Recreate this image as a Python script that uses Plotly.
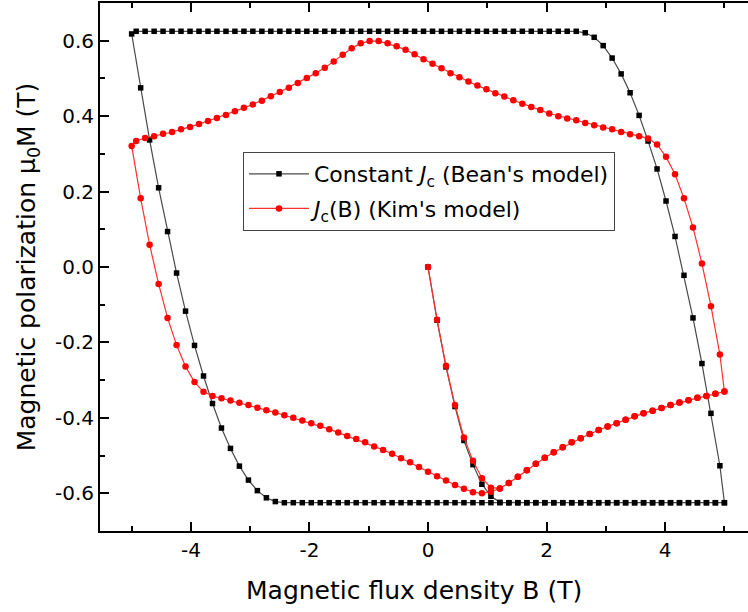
import plotly.graph_objects as go

# Field grid (T)
b_init = [0.0, 0.152, 0.303, 0.455, 0.606, 0.758, 0.909, 1.061, 1.212, 1.364, 1.515, 1.667,
          1.818, 1.970, 2.121, 2.273, 2.424, 2.576, 2.727, 2.879, 3.030, 3.182, 3.333, 3.485,
          3.636, 3.788, 3.939, 4.091, 4.242, 4.394, 4.545, 4.697, 4.848, 5.0]
b_down = [4.924, 4.773, 4.621, 4.470, 4.318, 4.167, 4.015, 3.864, 3.712, 3.561,
          3.409, 3.258, 3.106, 2.955, 2.803, 2.652, 2.500, 2.348, 2.197, 2.045,
          1.894, 1.742, 1.591, 1.439, 1.288, 1.136, 0.985, 0.833, 0.682, 0.530,
          0.379, 0.227, 0.076, -0.076, -0.227, -0.379, -0.530, -0.682, -0.833, -0.985,
          -1.136, -1.288, -1.439, -1.591, -1.742, -1.894, -2.045, -2.197, -2.348, -2.500,
          -2.652, -2.803, -2.955, -3.106, -3.258, -3.409, -3.561, -3.712, -3.864, -4.015,
          -4.167, -4.318, -4.470, -4.621, -4.773, -4.924]
b_up = [-5.0, -4.848, -4.697, -4.545, -4.394, -4.242, -4.091, -3.939, -3.788, -3.636,
        -3.485, -3.333, -3.182, -3.030, -2.879, -2.727, -2.576, -2.424, -2.273, -2.121,
        -1.970, -1.818, -1.667, -1.515, -1.364, -1.212, -1.061, -0.909, -0.758, -0.606,
        -0.455, -0.303, -0.152, 0.0, 0.152, 0.303, 0.455, 0.606, 0.758, 0.909,
        1.061, 1.212, 1.364, 1.515, 1.667, 1.818, 1.970, 2.121, 2.273, 2.424,
        2.576, 2.727, 2.879, 3.030, 3.182, 3.333, 3.485, 3.636, 3.788, 3.939,
        4.091, 4.242, 4.394, 4.545, 4.697, 4.848, 5.0]

# Constant Jc (Bean's model)
bean_init = [0.0, -0.141, -0.265, -0.370, -0.460, -0.524, -0.576, -0.608, -0.624, -0.625,
             -0.625, -0.625, -0.625, -0.625, -0.625, -0.625, -0.625, -0.625, -0.625, -0.625,
             -0.625, -0.625, -0.625, -0.625, -0.625, -0.625, -0.625, -0.625, -0.625, -0.625,
             -0.625, -0.625, -0.625, -0.625]
bean_down = [-0.527, -0.388, -0.256, -0.135, -0.022, 0.081, 0.175, 0.260, 0.334, 0.402,
             0.462, 0.512, 0.554, 0.587, 0.609, 0.621, 0.625, 0.625, 0.625, 0.625,
             0.625, 0.625, 0.625, 0.625, 0.625, 0.625, 0.625, 0.625, 0.625, 0.625,
             0.625, 0.625, 0.625, 0.625, 0.625, 0.625, 0.625, 0.625, 0.625, 0.625,
             0.625, 0.625, 0.625, 0.625, 0.625, 0.625, 0.625, 0.625, 0.625, 0.625,
             0.625, 0.625, 0.625, 0.625, 0.625, 0.625, 0.625, 0.625, 0.625, 0.625,
             0.625, 0.625, 0.625, 0.625, 0.625, 0.625]
bean_up = [0.618, 0.475, 0.337, 0.210, 0.094, -0.016, -0.117, -0.208, -0.289, -0.362,
           -0.427, -0.481, -0.528, -0.565, -0.593, -0.612, -0.622, -0.625, -0.625, -0.625,
           -0.625, -0.625, -0.625, -0.625, -0.625, -0.625, -0.625, -0.625, -0.625, -0.625,
           -0.625, -0.625, -0.625, -0.625, -0.625, -0.625, -0.625, -0.625, -0.625, -0.625,
           -0.625, -0.625, -0.625, -0.625, -0.625, -0.625, -0.625, -0.625, -0.625, -0.625,
           -0.625, -0.625, -0.625, -0.625, -0.625, -0.625, -0.625, -0.625, -0.625, -0.625,
           -0.625, -0.625, -0.625, -0.625, -0.625, -0.625, -0.625]

# Jc(B) (Kim's model)
kim_init = [0.0, -0.140, -0.262, -0.366, -0.452, -0.514, -0.560, -0.585, -0.587, -0.573,
            -0.556, -0.539, -0.522, -0.506, -0.491, -0.478, -0.465, -0.454, -0.443, -0.432,
            -0.423, -0.414, -0.405, -0.396, -0.388, -0.381, -0.374, -0.366, -0.359, -0.353,
            -0.347, -0.342, -0.336, -0.330]
kim_down = [-0.232, -0.104, 0.009, 0.105, 0.182, 0.246, 0.292, 0.325, 0.341, 0.347,
            0.352, 0.358, 0.365, 0.370, 0.376, 0.382, 0.389, 0.394, 0.400, 0.407,
            0.416, 0.424, 0.433, 0.442, 0.452, 0.461, 0.471, 0.481, 0.492, 0.503,
            0.514, 0.527, 0.539, 0.551, 0.564, 0.576, 0.585, 0.593, 0.599, 0.599,
            0.593, 0.580, 0.563, 0.545, 0.528, 0.514, 0.501, 0.488, 0.475, 0.464,
            0.453, 0.441, 0.431, 0.422, 0.413, 0.403, 0.395, 0.387, 0.379, 0.371,
            0.365, 0.358, 0.353, 0.347, 0.342, 0.334]
kim_up = [0.321, 0.182, 0.059, -0.045, -0.135, -0.207, -0.264, -0.305, -0.331, -0.342,
          -0.348, -0.354, -0.360, -0.366, -0.373, -0.380, -0.386, -0.393, -0.400, -0.407,
          -0.414, -0.421, -0.430, -0.439, -0.448, -0.456, -0.465, -0.476, -0.485, -0.495,
          -0.507, -0.518, -0.530, -0.543, -0.555, -0.566, -0.578, -0.588, -0.597, -0.600,
          -0.596, -0.587, -0.573, -0.556, -0.539, -0.522, -0.506, -0.491, -0.478, -0.465,
          -0.454, -0.443, -0.432, -0.423, -0.414, -0.405, -0.396, -0.388, -0.381, -0.374,
          -0.366, -0.359, -0.353, -0.347, -0.342, -0.336, -0.330]

x_tickvals = [-4, -2, 0, 2, 4]
x_ticktext = ["-4", "-2", "0", "2", "4"]
x_minorvals = [-5, -3, -1, 1, 3, 5]
y_tickvals = [-0.6, -0.4, -0.2, 0.0, 0.2, 0.4, 0.6]
y_ticktext = ["-0.6", "-0.4", "-0.2", "0.0", "0.2", "0.4", "0.6"]
y_minorvals = [-0.7, -0.5, -0.3, -0.1, 0.1, 0.3, 0.5, 0.7]

FONT = "DejaVu Sans"
b_all = b_init + b_down + b_up

fig = go.Figure()
fig.add_trace(go.Scatter(
    x=b_all, y=bean_init + bean_down + bean_up, mode="lines+markers",
    name="Constant <i>J</i><sub>c</sub> (Bean's model)",
    line=dict(color="#4a4a4a", width=1.2),
    marker=dict(symbol="square", size=5.5, color="#000000"),
    legendgroup="a"))
fig.add_trace(go.Scatter(
    x=b_all, y=kim_init + kim_down + kim_up, mode="lines+markers",
    name="<i>J</i><sub>c</sub>(B) (Kim's model)",
    line=dict(color="#ff3030", width=1.2),
    marker=dict(symbol="circle", size=6.5, color="#ff0000"),
    legendgroup="b"))

axis_common = dict(
    showline=True, linecolor="#000000", linewidth=2,
    ticks="inside", ticklen=9, tickwidth=2, tickcolor="#000000",
    showgrid=False, zeroline=False,
    tickfont=dict(family=FONT, size=20, color="#000000"),
)

fig.update_layout(
    width=748, height=612,
    margin=dict(l=100, r=0, t=3, b=81),
    paper_bgcolor="white", plot_bgcolor="white",
    xaxis=dict(range=[-5.534, 5.398], tickmode="array", tickvals=x_tickvals, ticktext=x_ticktext,
               mirror="ticks",
               minor=dict(tickmode="array", tickvals=x_minorvals, ticks="inside", ticklen=5,
                          tickwidth=2, tickcolor="#000000"),
               **axis_common),
    yaxis=dict(range=[-0.7, 0.7], tickmode="array", tickvals=y_tickvals, ticktext=y_ticktext,
               mirror=False,
               minor=dict(tickmode="array", tickvals=y_minorvals, ticks="inside", ticklen=5,
                          tickwidth=2, tickcolor="#000000"),
               title=dict(text="Magnetic polarization μ<sub>0</sub>M (T)",
                          font=dict(family=FONT, size=25, color="#000000"), standoff=12),
               **axis_common),
    showlegend=True,
    legend=dict(x=0.2207, y=0.7178, xanchor="left", yanchor="top",
                bgcolor="white", bordercolor="#444444", borderwidth=1,
                font=dict(family=FONT, size=22, color="#000000"),
                traceorder="grouped", tracegroupgap=3, itemwidth=60),
    annotations=[dict(text="Magnetic flux density B (T)", xref="paper", yref="paper",
                      x=0.4838, y=-0.1136, xanchor="center", yanchor="middle", showarrow=False,
                      font=dict(family=FONT, size=25, color="#000000"))],
)

fig.write_html("out.html")
